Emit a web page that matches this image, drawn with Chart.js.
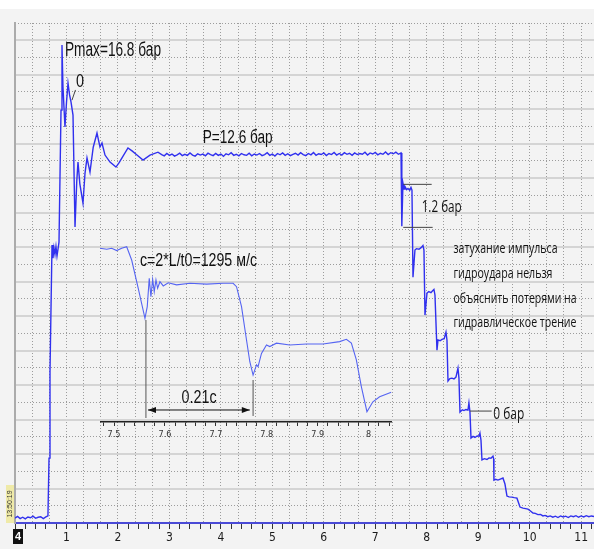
<!DOCTYPE html>
<html><head><meta charset="utf-8">
<script src="https://cdn.jsdelivr.net/npm/chart.js@4.4.1/dist/chart.umd.min.js"></script>
<style>
html,body{margin:0;padding:0;background:#fff;}
#wrap{position:relative;width:594px;height:549px;overflow:hidden;}
#main{position:absolute;left:0;top:0;}
#inset{position:absolute;left:100px;top:230px;}
</style></head><body>
<div id="wrap"><canvas id="main" width="594" height="549"></canvas><canvas id="inset" width="292" height="215"></canvas></div>
<script>
// ---------- DATA (time in s, pressure in bar) ----------
const baseTime = [0,0.05,0.1,0.15,0.2,0.25,0.3,0.35,0.4,0.45,0.5,0.55,0.6,0.64];
const basePressure = [-1.28,-1.22,-1.3,-1.25,-1.31,-1.24,-1.27,-1.21,-1.29,-1.25,-1.23,-1.3,-1.24,-1.2];

const riseTime = [0.661,0.68,0.719,0.738,0.757,0.777,0.796,0.816,0.855,0.894,0.913,0.932,0.971,1.0,1.03,1.06,1.088,1.127,1.166,1.2,1.224,1.26,1.321,1.36,1.399,1.457,1.52,1.593,1.651,1.69,1.749,1.846,1.962,2.02,2.079,2.195,2.28,2.37,2.487,2.623,2.778];
const risePressure = [1.01,4.3,9.16,8.66,9.05,8.8,9.1,8.74,9.27,14.32,16.81,15.2,13.67,14.6,15.35,14.9,14.63,14.13,9.85,11.6,12.33,11.5,10.76,11.9,12.49,11.95,12.9,13.44,12.91,13.06,12.6,12.33,12.14,12.3,12.49,12.87,12.75,12.6,12.41,12.6,12.71];

const plateauTime = [2.85,2.9,2.95,3,3.05,3.1,3.15,3.2,3.25,3.3,3.35,3.4,3.45,3.5,3.55,3.6,3.65,3.7,3.75,3.8,3.85,3.9,3.95,4,4.05,4.1,4.15,4.2,4.25,4.3,4.35,4.4,4.45,4.5,4.55,4.6,4.65,4.7,4.75,4.8,4.85,4.9,4.95,5,5.05,5.1,5.15,5.2,5.25,5.3,5.35,5.4,5.45,5.5,5.55,5.6,5.65,5.7,5.75,5.8,5.85,5.9,5.95,6,6.05,6.1,6.15,6.2,6.25,6.3,6.35,6.4,6.45,6.5,6.55,6.6,6.65,6.7,6.75,6.8,6.85,6.9,6.95,7,7.05,7.1,7.15,7.2,7.25,7.3,7.35,7.4,7.45,7.5];
const plateauPressure = [12.62,12.57,12.66,12.59,12.64,12.56,12.61,12.67,12.58,12.63,
12.59,12.68,12.60,12.56,12.65,12.60,12.64,12.57,12.67,12.62,
12.58,12.66,12.59,12.64,12.55,12.65,12.61,12.69,12.59,12.63,
12.57,12.66,12.61,12.59,12.67,12.57,12.64,12.60,12.66,12.58,
12.62,12.69,12.59,12.64,12.56,12.66,12.61,12.68,12.59,12.65,
12.58,12.63,12.67,12.60,12.69,12.62,12.58,12.66,12.61,12.70,
12.59,12.65,12.62,12.68,12.58,12.66,12.62,12.70,12.60,12.66,
12.60,12.69,12.63,12.67,12.59,12.68,12.62,12.66,12.63,12.71,
12.60,12.68,12.64,12.70,12.61,12.67,12.63,12.72,12.62,12.69,
12.65,12.71,12.63,12.68];

const decayTime = [7.513,7.519,7.538,7.56,7.577,7.61,7.636,7.67,7.694,7.713,7.733,7.771,7.8,7.849,7.89,7.927,7.946,7.966,8.005,8.04,8.082,8.11,8.14,8.16,8.199,8.219,8.26,8.296,8.34,8.374,8.393,8.413,8.45,8.49,8.53,8.568,8.607,8.626,8.646,8.69,8.724,8.76,8.801,8.82,8.84,8.86,8.9,8.937,8.98,9.015,9.034,9.054,9.073,9.12,9.17,9.21,9.248,9.287,9.3,9.306,9.34,9.384,9.43,9.481,9.52,9.559,9.6,9.656,9.7,9.753,9.812,9.87,9.92,9.967,10.01,10.064,10.11,10.16,10.21,10.258,10.3,10.35,10.4,10.45,10.5,10.55,10.6,10.65,10.7,10.75,10.8,10.85,10.9,10.95,11.0,11.05,11.1,11.15,11.2,11.25];
const decayPressure = [12.65,9.88,11.53,11.3,11.4,11.28,11.32,11.25,11.36,11.26,7.93,8.97,9.02,9.0,9.06,9.14,8.97,6.48,7.32,7.38,7.34,7.4,7.46,7.25,5.14,5.53,5.5,5.55,5.58,5.83,5.53,3.96,4.05,4.07,4.04,4.11,4.45,4.07,2.77,2.86,2.83,2.87,2.85,3.12,2.77,1.78,1.84,1.8,1.86,1.85,1.97,1.7,0.94,0.99,0.96,1.02,1.01,1.09,0.98,0.17,0.2,0.17,0.21,0.25,0.02,-0.44,-0.47,-0.48,-0.5,-0.52,-0.86,-0.9,-0.92,-0.94,-1.0,-1.09,-1.1,-1.15,-1.14,-1.2,-1.18,-1.23,-1.2,-1.25,-1.21,-1.26,-1.2,-1.24,-1.21,-1.26,-1.2,-1.23,-1.19,-1.25,-1.2,-1.24,-1.19,-1.23,-1.2,-1.22];

// zoomed inset (7.47 .. 8.05 s)
const insetTime = [7.4725,7.4857,7.4955,7.5053,7.5151,7.5249,7.5347,7.5476,7.5608,7.5653,7.5692,7.5725,7.5759,7.579,7.5824,7.5857,7.5902,7.5967,7.6065,7.6229,7.649,7.6818,7.7143,7.7339,7.7406,7.7504,7.7602,7.7667,7.7731,7.7798,7.7829,7.7896,7.7994,7.8059,7.819,7.8451,7.8778,7.9104,7.9431,7.9563,7.9661,7.9759,7.9857,7.9967,8.0084,8.0216,8.0445];
const insetPressure = [12.59,12.55,12.59,12.5,12.59,12.65,12.14,11.06,9.91,10.36,11.44,10.74,11.4,10.93,11.38,11.06,11.31,11.15,11.27,11.19,11.25,11.22,11.25,11.25,11.12,10.36,9.08,8.25,7.74,8.13,8.06,8.57,8.89,8.83,8.96,8.89,8.93,8.93,9.02,9.11,8.96,8.32,7.3,6.34,6.72,6.91,7.08];

const mainTickLabels = ['1','2','3','4','5','6','7','8','9','10','11'];
const insetTickLabels = ['7.5','7.6','7.7','7.8','7.9','8'];

// ---------- helpers ----------
const mainT = baseTime.concat(riseTime, plateauTime, decayTime);
const mainP = basePressure.concat(risePressure, plateauPressure, decayPressure);
const pts = (t, p) => t.map((v, i) => ({x: v, y: p[i]}));

function stext(ctx, txt, x, y, font, w, color) {
  ctx.save();
  ctx.font = font;
  const m = ctx.measureText(txt).width;
  ctx.translate(x, y);
  ctx.scale(w / m, 1);
  ctx.fillStyle = color || '#111';
  ctx.textBaseline = 'alphabetic';
  ctx.textAlign = 'left';
  ctx.fillText(txt, 0, 0);
  ctx.restore();
}
function seg(ctx, x1, y1, x2, y2, color, w) {
  ctx.save(); ctx.strokeStyle = color; ctx.lineWidth = w; ctx.beginPath();
  ctx.moveTo(x1, y1); ctx.lineTo(x2, y2); ctx.stroke(); ctx.restore();
}

const ARIAL = '"Liberation Sans", Arial, sans-serif';
const CAL = '"Open Sans", "Noto Sans", sans-serif';

const mainNotes = [
  {text: 'Pmax=16.8 бар', t: 0.971, p: 16.386, font: '20px ' + ARIAL, w: 96},
  {text: '0', t: 1.185, p: 15.2, font: '19px ' + ARIAL, w: 8},
  {text: 'P=12.6 бар', t: 3.647, p: 13.047, font: '18px ' + ARIAL, w: 70},
  {text: '1.2 бар', t: 7.902, p: 10.432, font: '17px ' + CAL, w: 40},
  {text: '0 бар', t: 9.293, p: 2.504, font: '17px ' + CAL, w: 31},
  {text: 'затухание импульса', t: 8.52, p: 8.864, font: '15px ' + CAL, w: 104},
  {text: 'гидроудара нельзя', t: 8.52, p: 7.885, font: '15px ' + CAL, w: 99},
  {text: 'объяснить потерями на', t: 8.52, p: 6.96, font: '15px ' + CAL, w: 123},
  {text: 'гидравлическое трение', t: 8.52, p: 6.011, font: '15px ' + CAL, w: 123}
];
const mainLines = [
  {t1: 1.107, p1: 14.70, t2: 1.175, p2: 15.09},
  {t1: 7.544, p1: 11.48, t2: 8.096, p2: 11.48},
  {t1: 7.544, p1: 9.835, t2: 8.115, p2: 9.835},
  {t1: 8.84, p1: 2.81, t2: 9.262, p2: 2.81}
];

const bgPlugin = {
  id: 'bg',
  beforeDraw(c) {
    const ctx = c.ctx;
    ctx.save();
    ctx.fillStyle = '#ffffff'; ctx.fillRect(0, 0, c.width, c.height);
    ctx.fillStyle = '#f3f3f3'; ctx.fillRect(0, 9, c.width, c.height - 9);
    ctx.restore();
  }
};

const mainNotesPlugin = {
  id: 'mainNotes',
  afterDraw(c) {
    const ctx = c.ctx, sx = c.scales.x, sy = c.scales.y;
    mainLines.forEach(l => seg(ctx, sx.getPixelForValue(l.t1), sy.getPixelForValue(l.p1), sx.getPixelForValue(l.t2), sy.getPixelForValue(l.p2), '#444', 1));
    mainNotes.forEach(n => stext(ctx, n.text, sx.getPixelForValue(n.t), sy.getPixelForValue(n.p), n.font, n.w, '#111'));
    ctx.save();
    ctx.fillStyle = '#efeaa8'; ctx.fillRect(6, 485, 8, 38);
    ctx.translate(10, 504); ctx.rotate(-Math.PI / 2);
    ctx.fillStyle = '#333'; ctx.font = '7px "Liberation Sans", sans-serif';
    ctx.textAlign = 'center'; ctx.textBaseline = 'middle';
    ctx.fillText('13:50:19', 0, 0);
    ctx.restore();
    ctx.save();
    ctx.fillStyle = '#111'; ctx.fillRect(13, 529, 10, 15);
    ctx.fillStyle = '#fff'; ctx.font = 'bold 11px "Liberation Sans", sans-serif';
    ctx.textAlign = 'center'; ctx.textBaseline = 'middle';
    ctx.fillText('4', 18, 537);
    ctx.restore();
  }
};

new Chart(document.getElementById('main'), {
  type: 'line',
  data: {datasets: [{
    data: pts(mainT, mainP), borderColor: 'rgb(48,48,238)', borderWidth: 1.4,
    pointRadius: 0, tension: 0, fill: false, xAxisID: 'x', yAxisID: 'y'
  }]},
  options: {
    responsive: false, devicePixelRatio: 1, animation: false,
    layout: {padding: {left: 15, top: 23, right: 0, bottom: 0}},
    plugins: {legend: {display: false}, tooltip: {enabled: false}},
    scales: {
      x: {
        type: 'linear', position: 'bottom', min: 0, max: 11.25, z: 1,
        ticks: {
          stepSize: 0.2, autoSkip: false, maxTicksLimit: 200, includeBounds: false,
          maxRotation: 0, minRotation: 0, padding: 2, color: '#1a1a1a',
          font: {family: '"Liberation Sans Narrow","DejaVu Sans Condensed","Liberation Sans",sans-serif', size: 12},
          callback: (v) => {
            const r = Math.round(v);
            return (Math.abs(v - r) < 1e-6 && r >= 1) ? mainTickLabels[r - 1] : '';
          }
        },
        grid: {display: true, drawOnChartArea: false, drawTicks: true, tickLength: 6, tickColor: '#333', tickWidth: 1},
        border: {display: true, color: '#4a4ad6', width: 2},
        afterFit: (s) => { s.height = 26; }
      },
      y: {
        type: 'linear', position: 'left', min: -1.47, max: 17.65,
        ticks: {display: false}, grid: {display: false, drawTicks: false},
        border: {display: true, color: '#ababab', width: 2},
        afterFit: (s) => { s.width = 0; }
      },
      xg: {
        type: 'linear', position: 'top', min: 0, max: 33.75,
        ticks: {display: false, stepSize: 1, maxTicksLimit: 200, includeBounds: false, autoSkip: false},
        grid: {display: true, drawTicks: false, color: '#9c9c9c', lineWidth: 1},
        border: {display: false, dash: [1, 2]},
        afterFit: (s) => { s.height = 0; }
      },
      ygA: {
        type: 'linear', position: 'right', min: 0, max: 29,
        ticks: {display: false, stepSize: 1, maxTicksLimit: 200, autoSkip: false},
        grid: {display: true, drawTicks: false, lineWidth: 2,
          color: (ctx) => (ctx.tick && ctx.tick.value % 2 === 0) ? '#d4d4d4' : 'rgba(0,0,0,0)'},
        border: {display: false},
        afterFit: (s) => { s.width = 0; }
      },
      ygB: {
        type: 'linear', position: 'right', min: 0, max: 29,
        ticks: {display: false, stepSize: 1, maxTicksLimit: 200, autoSkip: false},
        grid: {display: true, drawTicks: false, lineWidth: 1,
          color: (ctx) => (ctx.tick && ctx.tick.value % 2 === 1) ? '#9c9c9c' : 'rgba(0,0,0,0)'},
        border: {display: false, dash: [1, 2]},
        afterFit: (s) => { s.width = 0; }
      }
    }
  },
  plugins: [bgPlugin, mainNotesPlugin]
});

// ---------- inset ----------
const insetNotes = [
  {text: 'c=2*L/t0=1295 м/с', t: 7.551, p: 11.912, font: '18px ' + ARIAL, w: 117},
  {text: '0.21с', t: 7.6327, p: 6.684, font: '19px ' + ARIAL, w: 35}
];
const insetMarkers = [
  {t: 7.5627, p1: 9.847, p2: 6.099},
  {t: 7.7731, p1: 7.552, p2: 6.176}
];
const insetArrow = {t1: 7.5667, t2: 7.7667, p: 6.405};

const insetPlugin = {
  id: 'insetNotes',
  afterDraw(c) {
    const ctx = c.ctx, sx = c.scales.x, sy = c.scales.y;
    insetMarkers.forEach(m => seg(ctx, sx.getPixelForValue(m.t), sy.getPixelForValue(m.p1), sx.getPixelForValue(m.t), sy.getPixelForValue(m.p2), '#555', 1));
    const x1 = sx.getPixelForValue(insetArrow.t1), x2 = sx.getPixelForValue(insetArrow.t2), y = sy.getPixelForValue(insetArrow.p);
    seg(ctx, x1, y, x2, y, '#111', 1);
    ctx.save(); ctx.fillStyle = '#111';
    ctx.beginPath(); ctx.moveTo(x1, y); ctx.lineTo(x1 + 8, y - 3); ctx.lineTo(x1 + 8, y + 3); ctx.closePath(); ctx.fill();
    ctx.beginPath(); ctx.moveTo(x2, y); ctx.lineTo(x2 - 8, y - 3); ctx.lineTo(x2 - 8, y + 3); ctx.closePath(); ctx.fill();
    ctx.restore();
    insetNotes.forEach(n => stext(ctx, n.text, sx.getPixelForValue(n.t), sy.getPixelForValue(n.p), n.font, n.w, '#111'));
  }
};

new Chart(document.getElementById('inset'), {
  type: 'line',
  data: {datasets: [{
    data: pts(insetTime, insetPressure), borderColor: 'rgb(85,100,242)', borderWidth: 1.1,
    pointRadius: 0, tension: 0, fill: false
  }]},
  options: {
    responsive: false, devicePixelRatio: 1, animation: false,
    layout: {padding: 0},
    plugins: {legend: {display: false}, tooltip: {enabled: false}},
    scales: {
      x: {
        type: 'linear', position: 'bottom', min: 7.4725, max: 8.0451,
        ticks: {
          stepSize: 0.02, autoSkip: false, maxTicksLimit: 200, includeBounds: false,
          maxRotation: 0, minRotation: 0, padding: 3, color: '#333',
          font: {family: '"Liberation Sans Narrow","DejaVu Sans Condensed","Liberation Sans",sans-serif', size: 9},
          callback: (v) => {
            const k = Math.round(v * 10);
            if (Math.abs(v * 10 - k) > 1e-6) return '';
            const i = k - 75;
            return (i >= 0 && i < insetTickLabels.length) ? insetTickLabels[i] : '';
          }
        },
        grid: {display: true, drawOnChartArea: false, drawTicks: true, tickLength: 4, tickColor: '#333', tickWidth: 1},
        border: {display: true, color: '#222', width: 1.5},
        afterFit: (s) => { s.height = 23; }
      },
      y: {type: 'linear', display: false, min: 5.946, max: 13.288}
    }
  },
  plugins: [insetPlugin]
});
</script>
</body></html>
